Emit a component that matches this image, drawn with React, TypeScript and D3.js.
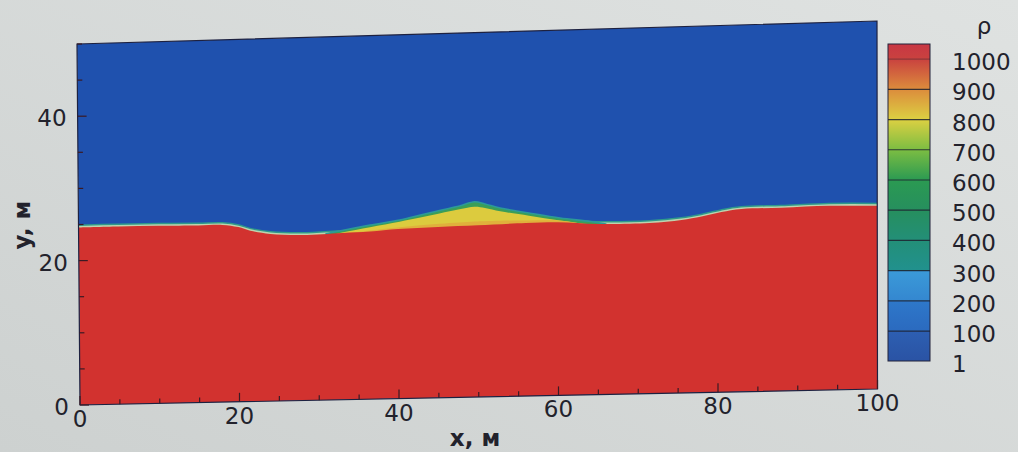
import React from 'react';
import * as d3 from 'd3';

// ---- data ----
const xTickLabels = [0, 20, 40, 60, 80, 100];
const yTickLabels = [0, 20, 40];
const legendLevels = [1, 100, 200, 300, 400, 500, 600, 700, 800, 900, 1000];

// top of the dense fluid (rho ~ 1000), metres
const surfaceX = [0, 5, 10, 15, 18, 20, 21.5, 24, 28, 33, 36.5, 40, 45, 50, 56, 60, 65, 71.5, 75.5, 78, 80.5, 83, 88, 94, 100];
const surfaceY = [24.6, 24.6, 24.55, 24.45, 24.45, 24.1, 23.55, 23.05, 22.8, 22.95, 23.05, 23.3, 23.45, 23.55, 23.7, 23.72, 23.35, 23.3, 23.6, 24.0, 24.55, 24.9, 24.95, 25.05, 24.9];

// mixed lens around x = 50 m
const lensX = [31, 33, 36.5, 40.2, 42.8, 45.2, 47.7, 49.6, 50.9, 52.8, 56.4, 60.3, 64.1, 66];
const lensGreenTop = [22.9, 23.3, 23.95, 24.54, 25.16, 25.72, 26.26, 26.8, 26.45, 25.85, 25.07, 24.28, 23.7, 23.3];
const lensYellowTop = [22.5, 23.0, 23.65, 24.3, 24.8, 25.3, 25.8, 26.1, 25.9, 25.4, 24.7, 23.95, 23.3, 23.0];
const lensOrangeTop = [22.5, 22.8, 23.2, 23.55, 23.75, 23.9, 24.0, 24.1, 24.1, 24.1, 24.05, 23.9, 23.2, 22.9];

// colour bar: value -> colour stops
const legendStopValues = [1, 100, 100, 200, 200, 300, 300, 400, 500, 600, 700, 800, 900, 1000, 1050];
const legendStopColors = ['#2a53a4', '#2d5fb2', '#2b6abf', '#2e78ca', '#3487d0', '#3b9ad8', '#21918e', '#238f78', '#268f5e', '#2b9a52', '#7cbd42', '#dcd042', '#dc8c3c', '#c9423f', '#c83744'];

// ---- geometry ----
const W = 1018;
const H = 452;
const BL: [number, number] = [80, 405];
const BR: [number, number] = [877.5, 389];
const TL: [number, number] = [77, 44];
const TR: [number, number] = [877, 21];

const sx = d3.scaleLinear().domain([0, 100]).range([0, 1]);
const sy = d3.scaleLinear().domain([0, 50]).range([0, 1]);

function P(x: number, y: number): [number, number] {
  const u = sx(x);
  const v = sy(y);
  const a = (1 - u) * (1 - v), b = u * (1 - v), c = (1 - u) * v, d = u * v;
  return [
    a * BL[0] + b * BR[0] + c * TL[0] + d * TR[0],
    a * BL[1] + b * BR[1] + c * TL[1] + d * TR[1],
  ];
}

const curve = d3.curveCatmullRom.alpha(0.5);

function areaPath(xs: number[], tops: number[], base: number) {
  const pts = xs.map((x, i) => [x, tops[i]] as [number, number]);
  const gen = d3
    .area<[number, number]>()
    .x0((d) => P(d[0], base)[0])
    .y0((d) => P(d[0], base)[1])
    .x1((d) => P(d[0], d[1])[0])
    .y1((d) => P(d[0], d[1])[1])
    .curve(curve);
  return gen(pts) || '';
}

function linePath(xs: number[], ys: number[]) {
  const pts = xs.map((x, i) => P(x, ys[i]));
  return d3.line().curve(curve)(pts) || '';
}

const legendY = d3.scaleLinear().domain([1, 1050]).range([361, 44]);
const LX0 = 888;
const LX1 = 930;

const FONT = "'DejaVu Sans', 'Liberation Sans', Arial, sans-serif";
const TEXT = '#22222c';

export default function App() {
  const quad = [P(0, 0), P(100, 0), P(100, 50), P(0, 50)];
  const quadPath = 'M' + quad.map((p) => p.join(',')).join('L') + 'Z';

  const minorX = d3.scaleLinear().domain([0, 100]).ticks(20);
  const minorY = d3.scaleLinear().domain([0, 50]).ticks(10);

  const surfacePath = linePath(surfaceX, surfaceY);
  const redPath = areaPath(surfaceX, surfaceY, 0);

  const stopDomain = d3.scaleLinear().domain([1, 1050]).range([0, 1]);

  return (
    <svg
      width={W}
      height={H}
      style={{ position: 'fixed', left: 0, top: 0, display: 'block' }}
      xmlns="http://www.w3.org/2000/svg"
    >
      <defs>
        <linearGradient id="bg" x1="0" y1="1" x2="1" y2="0">
          <stop offset="0" stopColor="#cdd1d0" />
          <stop offset="1" stopColor="#dfe2e1" />
        </linearGradient>
        <linearGradient
          id="legend"
          gradientUnits="userSpaceOnUse"
          x1={0}
          y1={legendY(1)}
          x2={0}
          y2={legendY(1050)}
        >
          {legendStopValues.map((v, i) => (
            <stop key={i} offset={stopDomain(v)} stopColor={legendStopColors[i]} />
          ))}
        </linearGradient>
        <clipPath id="plotClip">
          <path d={quadPath} />
        </clipPath>
      </defs>

      <rect x={0} y={0} width={W} height={H} fill="url(#bg)" />

      {/* field */}
      <g clipPath="url(#plotClip)">
        <path d={quadPath} fill="#1f51ae" />
        {/* interface halo */}
        <path d={surfacePath} fill="none" stroke="#2f9a8a" strokeWidth={6} />
        <path d={surfacePath} fill="none" stroke="#bcd3ae" strokeWidth={3} />
        {/* lens */}
        <path d={areaPath(lensX, lensGreenTop, 20)} fill="#3a9e58" stroke="#2c9a98" strokeWidth={1.6} />
        <path d={areaPath(lensX, lensYellowTop, 20)} fill="#dccb3e" />
        <path d={areaPath(lensX, lensOrangeTop, 20)} fill="#e0b03c" />
        {/* dense fluid */}
        <path d={redPath} fill="#d2322f" />
      </g>
      <path d={quadPath} fill="none" stroke="#1d2140" strokeWidth={1.2} />

      {/* ticks */}
      {minorX.map((t) => {
        const p = P(t, 0);
        const len = xTickLabels.includes(t) ? 9 : 5;
        return <line key={'xt' + t} x1={p[0]} y1={p[1]} x2={p[0]} y2={p[1] - len} stroke="#3a1a24" strokeWidth={1.2} />;
      })}
      {minorY.map((t) => {
        const p = P(0, t);
        const len = yTickLabels.includes(t) ? 9 : 5;
        return <line key={'yt' + t} x1={p[0]} y1={p[1]} x2={p[0] + len} y2={p[1]} stroke="#3a1a24" strokeWidth={1.2} />;
      })}

      {/* tick labels */}
      {xTickLabels.map((t) => {
        const p = P(t, 0);
        return (
          <text key={'xl' + t} x={p[0]} y={p[1] + 14} textAnchor="middle" dominantBaseline="central" fontFamily={FONT} fontSize={23} fill={TEXT}>
            {t}
          </text>
        );
      })}
      {yTickLabels.map((t) => {
        const p = P(0, t);
        return (
          <text key={'yl' + t} x={p[0] - 11} y={p[1] + 2} textAnchor="end" dominantBaseline="central" fontFamily={FONT} fontSize={23} fill={TEXT}>
            {t}
          </text>
        );
      })}

      {/* axis titles */}
      <text x={475} y={438} textAnchor="middle" dominantBaseline="central" fontFamily={FONT} fontWeight="bold" fontSize={23} fill={TEXT}>
        x, м
      </text>
      <text
        transform="translate(22,225) rotate(-90)"
        textAnchor="middle"
        dominantBaseline="central"
        fontFamily={FONT}
        fontWeight="bold"
        fontSize={23}
        fill={TEXT}
      >
        y, м
      </text>

      {/* colour bar */}
      <rect x={LX0} y={legendY(1050)} width={LX1 - LX0} height={legendY(1) - legendY(1050)} fill="url(#legend)" stroke="#23233a" strokeWidth={1} />
      {legendLevels.slice(1).map((v) => (
        <line key={'ll' + v} x1={LX0} x2={LX1} y1={legendY(v)} y2={legendY(v)} stroke="#1e2230" strokeWidth={1.2} opacity={v === 1000 ? 0.35 : 0.85} />
      ))}
      {legendLevels.map((v) => (
        <text key={'lt' + v} x={952} y={legendY(v) + 3} dominantBaseline="central" fontFamily={FONT} fontSize={23} fill={TEXT}>
          {v}
        </text>
      ))}
      <text x={984} y={26} textAnchor="middle" dominantBaseline="central" fontFamily={FONT} fontSize={23} fill={TEXT}>
        ρ
      </text>
    </svg>
  );
}
